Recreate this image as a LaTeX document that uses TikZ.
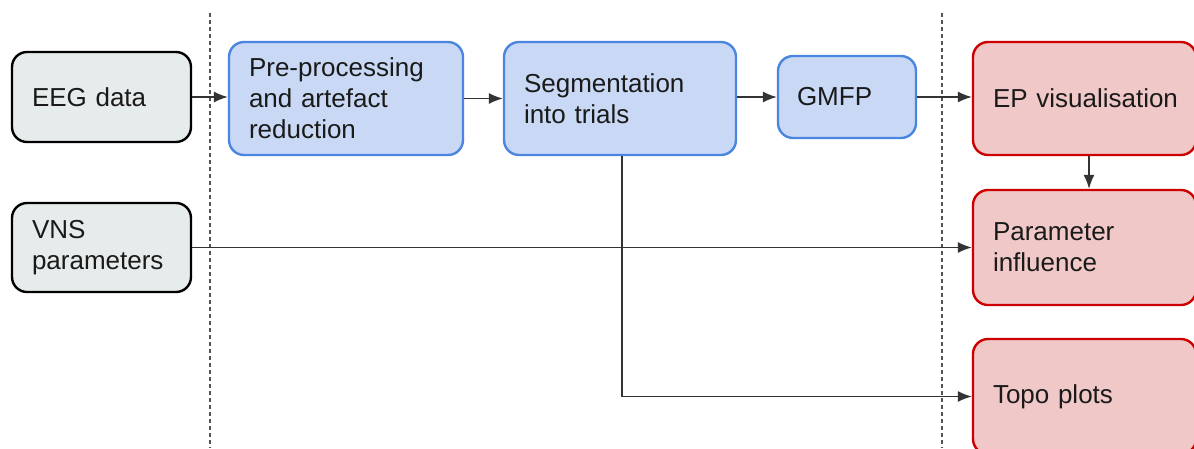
\documentclass[tikz,border=0pt]{standalone}
\usepackage{fontspec}
\setmainfont{Liberation Sans}
\usetikzlibrary{arrows.meta}
\definecolor{grayfill}{HTML}{E6EBEB}
\definecolor{bluefill}{HTML}{C9D9F5}
\definecolor{blueline}{HTML}{4A86E0}
\definecolor{redfill}{HTML}{F1C8C8}
\definecolor{redline}{HTML}{CC0000}
\definecolor{txt}{HTML}{1A1A1A}
\definecolor{arr}{HTML}{333333}
\definecolor{sep}{HTML}{555555}
\newcommand{\myboxfont}{\fontsize{26}{31}\selectfont\hyphenpenalty=10000 \exhyphenpenalty=10000 \hbadness=10000 \hfuzz=100pt\relax}
\tikzset{
  box/.style={rounded corners=15pt, line width=2.4pt, align=left, inner xsep=20pt,
    font=\myboxfont, text=txt, anchor=center},
  inbox/.style={box, draw=black, fill=grayfill},
  procbox/.style={box, draw=blueline, fill=bluefill},
  outbox/.style={box, draw=redline, fill=redfill},
  conn/.style={draw=arr, line width=1.3pt, -{Latex[length=14pt,width=11pt]}},
  sepline/.style={draw=sep, line width=1.1pt, dash pattern=on 4pt off 3pt}
}
\begin{document}
\begin{tikzpicture}[x=1pt,y=-1pt]
\useasboundingbox (0,0) rectangle (1194,448);
\clip (0,0) rectangle (1194,448);
\fill[white] (0,0) rectangle (1194,448);
% separators
\coordinate (s1t) at (210,13); \coordinate (s1b) at (210,448);
\coordinate (s2t) at (942,13); \coordinate (s2b) at (942,448);
\draw[sepline] (s1t) -- (s1b);
\draw[sepline] (s2t) -- (s2b);
% nodes
\node[inbox, minimum width=179pt, minimum height=90pt, text width=139pt] (EEG) at (101.5,97) {EEG data};
\node[inbox, minimum width=179pt, minimum height=89pt, text width=139pt] (VNS) at (101.5,247.5) {VNS\\parameters};
\node[procbox, minimum width=234pt, minimum height=113pt, text width=194pt] (Pre) at (346,98.5) {Pre-processing\\and artefact\\reduction};
\node[procbox, minimum width=232pt, minimum height=113pt, text width=192pt] (Seg) at (620,98.5) {Segmentation\\into trials};
\node[procbox, minimum width=138pt, minimum height=82pt, text width=100pt, inner xsep=19pt] (GMFP) at (847,97) {GMFP};
\node[outbox, minimum width=223pt, minimum height=113pt, text width=183pt] (EP) at (1084.5,98.5) {\mbox{EP visualisation}};
\node[outbox, minimum width=223pt, minimum height=115pt, text width=183pt] (Param) at (1084.5,247.5) {Parameter\\influence};
\node[outbox, minimum width=223pt, minimum height=115pt, text width=183pt] (Topo) at (1084.5,396.5) {Topo plots};
% connectors
\draw[conn] (EEG.east) -- (EEG.east -| Pre.west);
\draw[conn] (Pre.east) -- (Pre.east -| Seg.west);
\draw[conn] (GMFP.west -| Seg.east) -- (GMFP.west);
\draw[conn] (GMFP.east) -- (GMFP.east -| EP.west);
\draw[conn] ([xshift=4.5pt]EP.south) -- ([xshift=4.5pt]Param.north);
\draw[conn] (VNS.east) -- (Param.west);
\draw[conn] ([xshift=2pt]Seg.south) |- (Topo.west);
\end{tikzpicture}
\end{document}
